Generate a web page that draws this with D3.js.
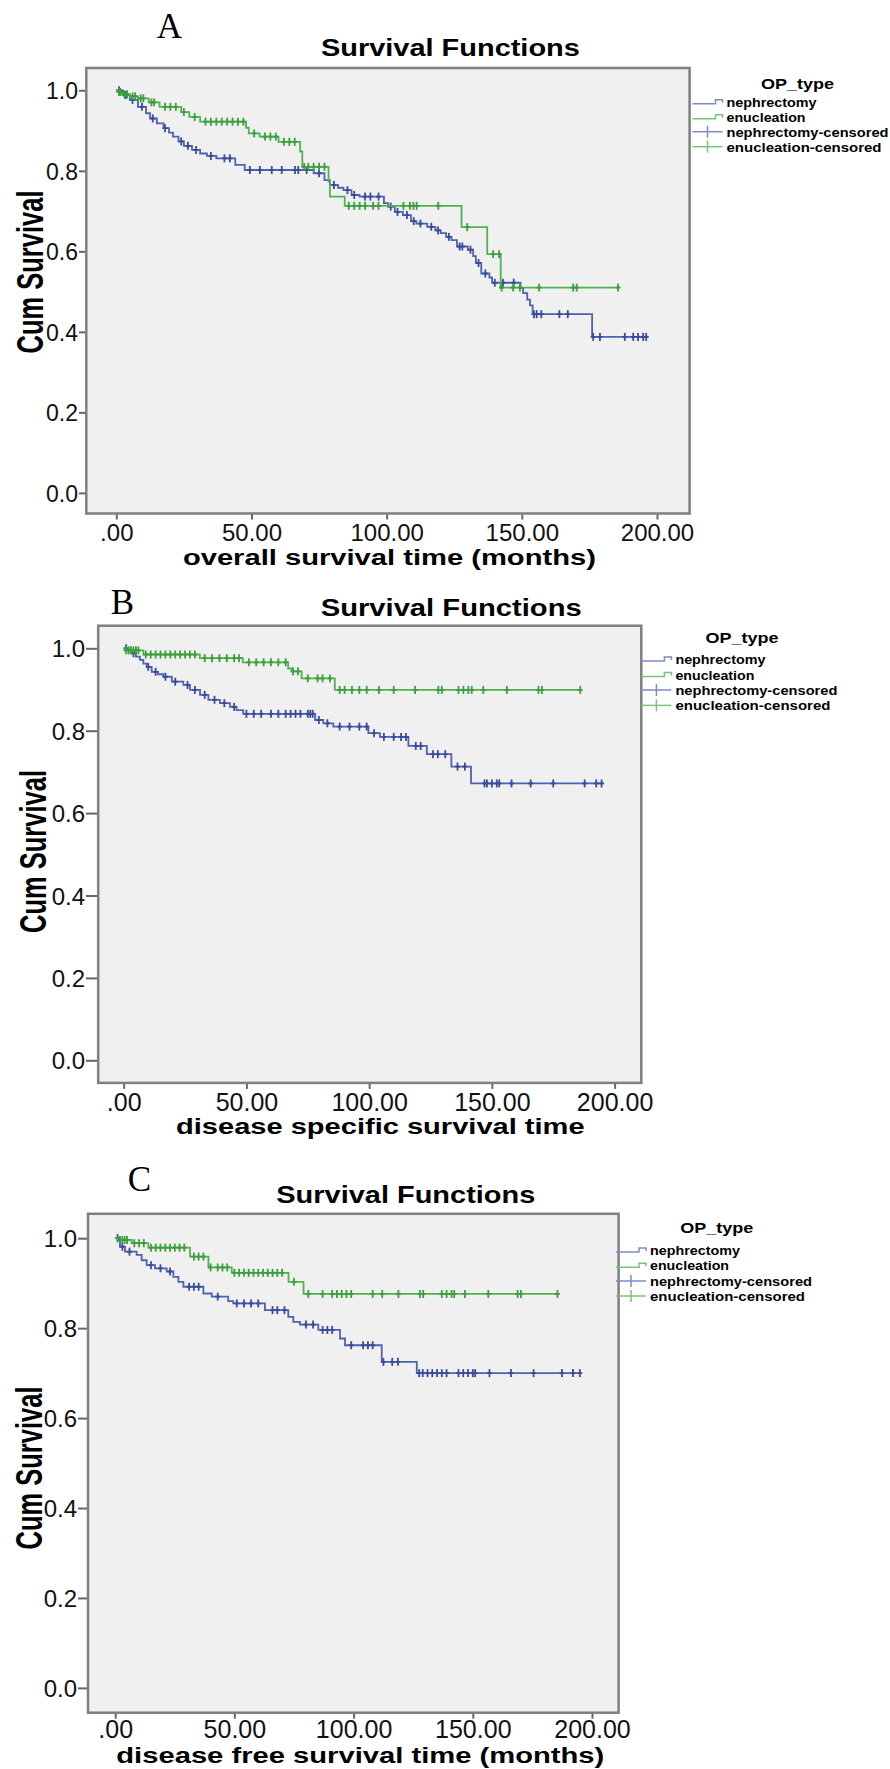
<!DOCTYPE html>
<html><head><meta charset="utf-8">
<script src="https://cdn.jsdelivr.net/npm/d3@7"></script>
<style>body{margin:0;background:#fff}svg{display:block}</style>
</head><body>
<svg id="chart" width="890" height="1769"></svg>
<script>
// ---------------- data ----------------
const timeTicks = [0, 50, 100, 150, 200];
const timeTickLabels = [".00", "50.00", "100.00", "150.00", "200.00"];
const survTicks = [0, 0.2, 0.4, 0.6, 0.8, 1.0];
const survTickLabels = ["0.0", "0.2", "0.4", "0.6", "0.8", "1.0"];
const groups = ["nephrectomy", "enucleation"];
const legendLabels = ["nephrectomy", "enucleation", "nephrectomy-censored", "enucleation-censored"];
const legendTitle = "OP_type";
const panelLetters = ["A", "B", "C"];
const chartTitles = ["Survival Functions", "Survival Functions", "Survival Functions"];
const xTitles = ["overall survival time (months)", "disease specific survival time", "disease free survival time (months)"];
const yTitle = "Cum Survival";

// steps: [time, survival after event]
const osNeph = [[2.5,0.988],[5,0.976],[8,0.959],[11,0.943],[12.5,0.930],[15,0.918],[17.5,0.906],[19.5,0.895],[21,0.885],[23,0.873],[25,0.862],[28,0.852],[31,0.843],[33.5,0.837],[37,0.831],[44,0.815],[47.5,0.802],[73,0.794],[77,0.777],[79,0.765],[82,0.758],[84,0.752],[87,0.740],[90,0.736],[99,0.720],[100.5,0.711],[103,0.698],[106,0.690],[109,0.675],[111,0.669],[115,0.661],[118,0.652],[120,0.645],[122,0.636],[124,0.628],[126,0.612],[130,0.604],[132,0.588],[133,0.571],[135,0.545],[138,0.535],[139,0.522],[149.5,0.509],[150.5,0.496],[152,0.480],[153,0.466],[154,0.444],[176,0.3875]];
const osNephCens = [1,3.5,6,9.5,13.5,18,24,26.5,29.5,35,40,42,49.4,53.1,57.5,61.2,66.1,67.3,70.4,75,80.5,85.5,88,92,94,97,101.5,104,107.5,110,112.5,116.5,119,123,127,128,131,134,136.5,140,143,147,154.5,155.5,157.2,163.9,167,176.4,178.9,188.1,191.2,193,194.9,196];
const osEnuc = [[0.5,0.996],[2,0.990],[5,0.985],[8,0.980],[12,0.970],[16,0.959],[24,0.946],[27,0.934],[31,0.922],[48,0.907],[49,0.893],[53,0.885],[60,0.872],[68,0.848],[68.8,0.810],[78.5,0.773],[79,0.736],[84.5,0.713],[127.7,0.660],[137.2,0.593],[142.2,0.510]];
const osEnucCens = [1,1.5,3,4,6,7,9,10,13,14,18,20,22,25,29,33,35,37,39,41,43,45,47,51,55,57,59,62,64,66,69.5,71,73,75,77,86,88,90,92,95,97,106.2,108.6,109.9,111.1,119.1,129.8,139.4,141.6,142.5,146.8,149.3,156.4,169,170.3,185.6];

const dssNeph = [[2,0.995],[3,0.988],[5,0.980],[6.6,0.972],[8,0.963],[9.4,0.955],[11.4,0.943],[14,0.937],[16.1,0.931],[19.6,0.919],[24.3,0.911],[27,0.899],[31.1,0.887],[34.5,0.875],[39.2,0.867],[43.3,0.858],[46,0.850],[48.7,0.841],[78,0.826],[81.3,0.818],[85.4,0.810],[99.7,0.794],[104.4,0.785],[116,0.763],[123.5,0.743],[133.5,0.713],[141.5,0.672]];
const dssNephCens = [1,4,10,13,17,21,26,29,33,37,41,45,50,53,56,60,63,66,68,70,72,75,76,77,79.5,83,88,92,96,99,102,106,110,113,115,119,121,126,128,131,136,139,147,148,150,152,153,158,165.8,175,187.8,192.5,194.7];
const dssEnuc = [[0.5,0.995],[8,0.985],[31,0.976],[48.5,0.966],[67,0.951],[68.5,0.944],[72.5,0.927],[86,0.899]];
const dssEnucCens = [1,2,3,4,5,6,9,11,13,15,17,19,21,23,25,27,29,33,36,39,42,45,47,51,54,57,60,63,66,69,71,75,79,81,84,88,90,93,96,99,104,110,118.7,128.2,129.6,136.4,138.4,140.4,141.8,146.5,156.1,169,170.4,186];

const dfsNeph = [[2,0.981],[4.1,0.970],[9,0.963],[11.1,0.951],[13.2,0.940],[16.7,0.933],[21.6,0.926],[24.4,0.914],[26.5,0.903],[28.6,0.892],[37,0.877],[40.5,0.870],[47.4,0.860],[49.5,0.855],[62.8,0.840],[72.6,0.825],[74.7,0.814],[77.5,0.808],[85.2,0.796],[94.3,0.777],[96.4,0.762],[111.8,0.725],[126.5,0.700]];
const dfsNephCens = [1,3,6,15,19,23,31,33,35,43,51,54,57,60,66,68,71,80,83,87,89,91,99,104,106,108,112.5,116.2,118.6,127.5,129,131,133,135,137,139,144,146,148,150,151,157,166,175.5,187.4,192,194.9];
const dfsEnuc = [[1,0.996],[6.9,0.989],[13.9,0.979],[31.4,0.959],[39.1,0.935],[48.9,0.923],[72.7,0.903],[79,0.876]];
const dfsEnucCens = [2,3,4,5,8,10,12,15,17,19,21,23,25,27,29,33,35,37,40,43,45,47,50,52,54,56,58,60,62,64,66,68,70,75,81,87,91,93,95,97,99,108,112,118.8,127.8,129.2,137,139,141.1,142.2,146.7,156.5,168.8,170.2,185.5];

const panelSeries = [
  [{steps: osNeph, cens: osNephCens}, {steps: osEnuc, cens: osEnucCens}],
  [{steps: dssNeph, cens: dssNephCens}, {steps: dssEnuc, cens: dssEnucCens}],
  [{steps: dfsNeph, cens: dfsNephCens}, {steps: dfsEnuc, cens: dfsEnucCens}]
];

// ---------------- layout / style ----------------
const lineColors = ["#4f62ad", "#52b152"];
const markColors = ["#3a4b9c", "#3c9e3c"];
const legendColors = ["#7d8cc6", "#79c379"];

const layout = [
  {letter:[156.7,38], frame:[86.3,68,689.6,513.5], xr:[116.3,657], yr:[492.9,90.3],
   title:[450.4,56,259], xlab:[389.4,564.5,413], ylab:[43,272], xtickY:540.5, xtickFs:24, ytickX:79, ytickFs:23,
   legend:{cx:797.4, ty:88.5, x:726.5, ys:[106.7,121.7,136.7,151.7]}},
  {letter:[110.7,614], frame:[98.2,625.7,641.3,1082.9], xr:[123.7,614.6], yr:[1060.3,648.3],
   title:[451.2,616,261], xlab:[380.3,1133.6,408.6], ylab:[46,851.5], xtickY:1111, xtickFs:25, ytickX:86, ytickFs:24,
   legend:{cx:742, ty:642.7, x:675.4, ys:[664,679.5,695,710.4]}},
  {letter:[127.7,1191], frame:[88,1213.8,618.6,1712.7], xr:[115.2,592], yr:[1687.9,1238.2],
   title:[405.8,1203,259], xlab:[360.3,1763,488], ylab:[42,1468], xtickY:1738, xtickFs:25, ytickX:78, ytickFs:24,
   legend:{cx:716.8, ty:1233.3, x:650, ys:[1255,1270.2,1286,1301]}}
];

const svg = d3.select("#chart");
const sans = "'Liberation Sans', Arial, sans-serif";

function survAt(steps, t) {
  let s = 1;
  for (const [tt, ss] of steps) { if (tt <= t) s = ss; else break; }
  return s;
}

layout.forEach((L, i) => {
  const g = svg.append("g");
  const x = d3.scaleLinear().domain([0, 200]).range(L.xr);
  const y = d3.scaleLinear().domain([0, 1]).range(L.yr);
  const [fx0, fy0, fx1, fy1] = L.frame;

  g.append("text").attr("x", L.letter[0]).attr("y", L.letter[1])
    .attr("font-family", "'Liberation Serif', 'Times New Roman', serif").attr("font-size", 35)
    .text(panelLetters[i]);

  g.append("text").attr("x", L.title[0]).attr("y", L.title[1]).attr("text-anchor", "middle")
    .attr("font-family", sans).attr("font-weight", "bold").attr("font-size", 24)
    .attr("textLength", L.title[2]).attr("lengthAdjust", "spacingAndGlyphs")
    .text(chartTitles[i]);

  g.append("rect").attr("x", fx0).attr("y", fy0).attr("width", fx1 - fx0).attr("height", fy1 - fy0)
    .attr("fill", "#f0f0f0");

  const xAxis = d3.axisBottom(x).tickValues(timeTicks).tickFormat((d, k) => timeTickLabels[k])
    .tickSize(6).tickSizeOuter(0);
  const xa = g.append("g").attr("transform", `translate(0,${fy1})`).call(xAxis);
  xa.select(".domain").remove();
  xa.selectAll(".tick line").attr("stroke", "#666").attr("stroke-width", 2);
  xa.selectAll(".tick text").attr("font-family", sans).attr("font-size", L.xtickFs).attr("fill", "#111")
    .attr("dy", null).attr("y", L.xtickY - fy1);

  const yAxis = d3.axisLeft(y).tickValues(survTicks).tickFormat((d, k) => survTickLabels[k])
    .tickSize(fx0 - L.ytickX).tickSizeOuter(0);
  const ya = g.append("g").attr("transform", `translate(${fx0},0)`).call(yAxis);
  ya.select(".domain").remove();
  ya.selectAll(".tick line").attr("stroke", "#666").attr("stroke-width", 2);
  ya.selectAll(".tick text").attr("font-family", sans).attr("font-size", L.ytickFs).attr("fill", "#111")
    .attr("x", -(fx0 - L.ytickX) - 1).attr("dy", "0.36em");

  g.append("rect").attr("x", fx0).attr("y", fy0).attr("width", fx1 - fx0).attr("height", fy1 - fy0)
    .attr("fill", "none").attr("stroke", "#7f7f7f").attr("stroke-width", 2.5);

  const line = d3.line().x(d => x(d[0])).y(d => y(d[1])).curve(d3.curveStepAfter);
  panelSeries[i].forEach((ser, k) => {
    const tEnd = d3.max(ser.cens);
    const last = ser.steps[ser.steps.length - 1][1];
    const pts = [[0, 1], ...ser.steps, [tEnd, last]];
    g.append("path").attr("d", line(pts)).attr("fill", "none")
      .attr("stroke", lineColors[k]).attr("stroke-width", 1.8);
    const mk = g.append("g").attr("stroke", markColors[k]).attr("stroke-width", 1.8);
    ser.cens.forEach(t => {
      const cx = x(t), cy = y(survAt(ser.steps, t));
      mk.append("line").attr("x1", cx).attr("x2", cx).attr("y1", cy - 4).attr("y2", cy + 4);
      mk.append("line").attr("x1", cx - 2.5).attr("x2", cx + 2.5).attr("y1", cy).attr("y2", cy);
    });
  });

  g.append("text").attr("x", L.xlab[0]).attr("y", L.xlab[1]).attr("text-anchor", "middle")
    .attr("font-family", sans).attr("font-weight", "bold").attr("font-size", 22)
    .attr("textLength", L.xlab[2]).attr("lengthAdjust", "spacingAndGlyphs")
    .text(xTitles[i]);
  g.append("text").attr("transform", `translate(${L.ylab[0]},${L.ylab[1]}) scale(1.4,1) rotate(-90)`)
    .attr("text-anchor", "middle")
    .attr("font-family", sans).attr("font-weight", "bold").attr("font-size", 26)
    .attr("textLength", 163).attr("lengthAdjust", "spacingAndGlyphs")
    .text(yTitle);

  const Lg = L.legend;
  g.append("text").attr("x", Lg.cx).attr("y", Lg.ty).attr("text-anchor", "middle")
    .attr("font-family", sans).attr("font-weight", "bold").attr("font-size", 15)
    .attr("textLength", 73).attr("lengthAdjust", "spacingAndGlyphs").text(legendTitle);
  const lens = [90, 79, 162, 155];
  legendLabels.forEach((lab, k) => {
    const by = Lg.ys[k];
    g.append("text").attr("x", Lg.x).attr("y", by)
      .attr("font-family", sans).attr("font-weight", "bold").attr("font-size", 13.5)
      .attr("textLength", lens[k]).attr("lengthAdjust", "spacingAndGlyphs").text(lab);
    const gi = k % 2;
    const sx0 = Lg.x - 34, sx1 = Lg.x - 4, my = by - 5;
    if (k < 2) {
      g.append("path").attr("d", `M${sx0},${my + 2}H${sx1 - 7}V${my - 2}H${sx1}V${my + 1}`)
        .attr("fill", "none").attr("stroke", legendColors[gi]).attr("stroke-width", 1.5);
    } else {
      g.append("path").attr("d", `M${sx0},${my}H${sx1}`)
        .attr("fill", "none").attr("stroke", legendColors[gi]).attr("stroke-width", 1.5);
      g.append("path").attr("d", `M${(sx0 + sx1) / 2},${my - 6}V${my + 6}`)
        .attr("fill", "none").attr("stroke", legendColors[gi]).attr("stroke-width", 1.5);
    }
  });
});
</script>
</body></html>
